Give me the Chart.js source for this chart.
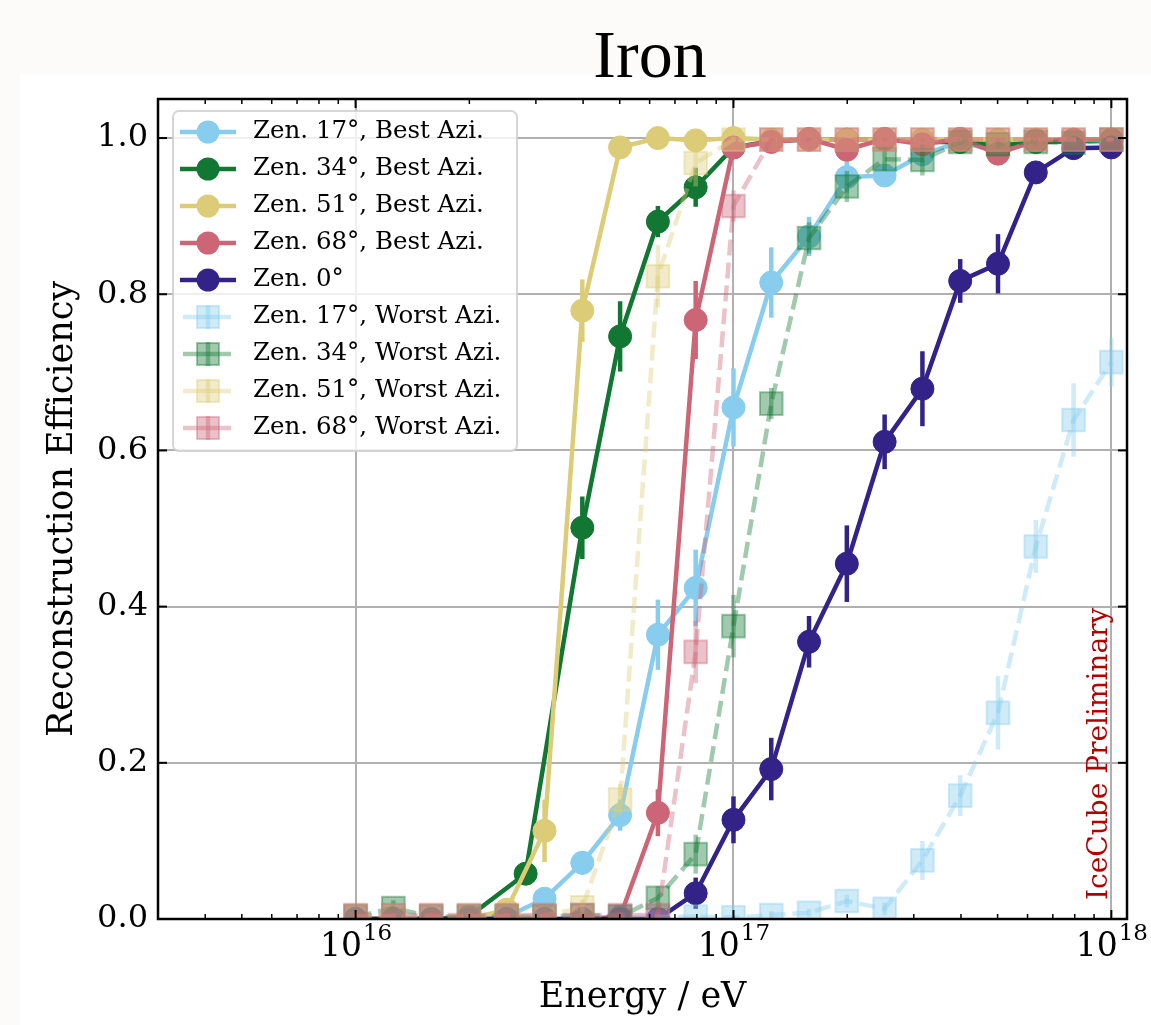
<!DOCTYPE html>
<html><head><meta charset="utf-8">
<script src="https://cdn.jsdelivr.net/npm/chart.js@4.4.0/dist/chart.umd.min.js"></script>
<style>html,body{margin:0;padding:0;background:#fcfbf9;}canvas{display:block}</style>
</head><body>
<canvas id="c" width="1151" height="1025"></canvas>
<script>
// ---- data (energy exponents: log10(E/eV)) ----
const logE = [16.0,16.1,16.2,16.3,16.4,16.5,16.6,16.7,16.8,16.9,17.0,17.1,17.2,17.3,17.4,17.5,17.6,17.7,17.8,17.9,18.0];
const logE34Best = [16.0,16.1,16.2,16.3,16.45,16.6,16.7,16.8,16.9,17.0,17.1,17.2,17.3,17.4,17.5,17.6,17.7,17.8,17.9,18.0];

const eff17Best = [0,0,0,0,0.003,0.026,0.072,0.133,0.364,0.424,0.655,0.815,0.874,0.95,0.952,0.979,0.995,0.983,0.995,0.995,0.995];
const err17Best = [0,0,0,0,0.003,0.01,0.015,0.02,0.045,0.049,0.05,0.045,0.025,0.02,0.01,0.008,0.003,0.005,0.003,0.003,0.003];
const eff34Best = [0,0,0,0.003,0.058,0.501,0.746,0.893,0.937,0.988,0.996,0.998,0.998,0.998,0.995,0.995,0.99,0.995,0.996,0.998];
const err34Best = [0,0,0,0.003,0.012,0.04,0.045,0.02,0.025,0.01,0.004,0.003,0.003,0.003,0.004,0.004,0.006,0.004,0.003,0.003];
const eff51Best = [0,0,0,0,0.012,0.113,0.779,0.988,1.0,0.997,1.0,0.998,0.998,0.998,0.998,0.998,0.998,0.998,0.998,0.998,0.998];
const err51Best = [0,0,0,0,0.005,0.04,0.04,0.01,0.003,0.003,0.002,0.002,0.002,0.002,0.002,0.002,0.002,0.002,0.002,0.002,0.002];
const eff68Best = [0,0,0,0,0,0,0,0.003,0.136,0.767,0.988,0.995,0.999,0.985,0.999,0.992,0.999,0.98,0.997,0.998,0.998];
const err68Best = [0,0,0,0,0,0,0,0.003,0.03,0.05,0.01,0.005,0.002,0.01,0.002,0.006,0.002,0.01,0.003,0.003,0.003];
const eff0 = [0,0,0,0,0,0,0,0,0,0.033,0.127,0.192,0.355,0.455,0.611,0.679,0.817,0.839,0.956,0.987,0.988];
const err0 = [0,0,0,0,0,0,0,0,0,0.02,0.03,0.04,0.033,0.049,0.035,0.048,0.028,0.038,0.012,0.01,0.01];

const eff17Worst = [0.003,0.003,0.003,0.003,0.003,0.003,0.003,0.003,0.003,0.003,0.002,0.005,0.008,0.023,0.013,0.075,0.158,0.264,0.477,0.639,0.713];
const err17Worst = [0.003,0.003,0.003,0.003,0.003,0.003,0.003,0.003,0.003,0.003,0.003,0.005,0.005,0.008,0.008,0.025,0.026,0.047,0.034,0.047,0.031];
const eff34Worst = [0.003,0.014,0.003,0.003,0.003,0.003,0.005,0.003,0.027,0.083,0.375,0.66,0.872,0.938,0.973,0.972,0.995,0.992,0.995,0.994,0.998];
const err34Worst = [0.003,0.01,0.003,0.003,0.003,0.003,0.005,0.003,0.015,0.025,0.04,0.02,0.02,0.02,0.015,0.02,0.004,0.006,0.004,0.004,0.003];
const eff51Worst = [0.004,0.004,0.004,0.004,0.004,0.004,0.015,0.153,0.823,0.968,0.998,0.998,0.998,0.998,0.998,0.998,0.998,0.998,0.998,0.998,0.998];
const err51Worst = [0.004,0.004,0.004,0.004,0.004,0.004,0.01,0.02,0.04,0.03,0.003,0.002,0.002,0.002,0.002,0.002,0.002,0.002,0.002,0.002,0.002];
const eff68Worst = [0.005,0.005,0.005,0.005,0.005,0.005,0.005,0.005,0.005,0.342,0.913,0.998,0.998,0.998,0.998,0.998,0.998,0.998,0.998,0.998,0.998];
const err68Worst = [0.004,0.004,0.004,0.004,0.004,0.004,0.004,0.004,0.004,0.04,0.02,0.002,0.002,0.002,0.002,0.002,0.002,0.002,0.002,0.002,0.002];

const seriesLabels = ['Zen. 17°, Best Azi.','Zen. 34°, Best Azi.','Zen. 51°, Best Azi.','Zen. 68°, Best Azi.','Zen. 0°',
  'Zen. 17°, Worst Azi.','Zen. 34°, Worst Azi.','Zen. 51°, Worst Azi.','Zen. 68°, Worst Azi.'];
const yTicks = [0,0.2,0.4,0.6,0.8,1.0];
const xMajorTicks = [1e16,1e17,1e18];
const xTickExponents = ['16','17','18'];
const xMinorMantissas = [2,3,4,5,6,7,8,9];

// ---- styling ----
const COLORS = {c17:[136,204,238], c34:[17,119,51], c51:[221,204,119], c68:[204,102,119], c0:[51,34,136]};
const rgba = (c,a)=>`rgba(${c[0]},${c[1]},${c[2]},${a})`;
const LW = 4.5;

function mk(label, exps, vals, errs, col, worst){
  const a = worst ? 0.4 : 1;
  return {
    label, data: exps.map((e,i)=>({x:Math.pow(10,e), y:vals[i]})), errs,
    showLine:true, borderColor:rgba(col,a), backgroundColor:rgba(col,a),
    borderWidth:LW, borderDash: worst?[16,7]:[],
    pointStyle: worst?'rect':'circle', pointRadius: worst?16:11.5, pointHoverRadius: worst?16:11.5,
    pointBackgroundColor:rgba(col,a), pointBorderColor:rgba(col,a), pointBorderWidth: worst?2:1,
    clip:0, _col:col, _alpha:a, _worst:worst
  };
}
const datasets = [
  mk(seriesLabels[0], logE, eff17Best, err17Best, COLORS.c17, false),
  mk(seriesLabels[1], logE34Best, eff34Best, err34Best, COLORS.c34, false),
  mk(seriesLabels[2], logE, eff51Best, err51Best, COLORS.c51, false),
  mk(seriesLabels[3], logE, eff68Best, err68Best, COLORS.c68, false),
  mk(seriesLabels[4], logE, eff0, err0, COLORS.c0, false),
  mk(seriesLabels[5], logE, eff17Worst, err17Worst, COLORS.c17, true),
  mk(seriesLabels[6], logE, eff34Worst, err34Worst, COLORS.c34, true),
  mk(seriesLabels[7], logE, eff51Worst, err51Worst, COLORS.c51, true),
  mk(seriesLabels[8], logE, eff68Worst, err68Worst, COLORS.c68, true),
];
datasets.forEach((d,i)=>{ d.order = 100 - i; });

const SERIF = '"DejaVu Serif", serif';

const errorBars = {
  id:'errorBars',
  beforeDatasetDraw(chart, args){
    const ds = chart.data.datasets[args.index];
    const {ctx, chartArea:a} = chart; const ys = chart.scales.y, xs = chart.scales.x;
    ctx.save();
    ctx.beginPath(); ctx.rect(a.left, a.top, a.right-a.left, a.bottom-a.top); ctx.clip();
    ctx.strokeStyle = rgba(ds._col, ds._alpha); ctx.lineWidth = LW; ctx.setLineDash([]);
    ds.data.forEach((p,i)=>{
      const e = ds.errs[i]; if(!e) return;
      const px = xs.getPixelForValue(p.x);
      ctx.beginPath(); ctx.moveTo(px, ys.getPixelForValue(p.y-e)); ctx.lineTo(px, ys.getPixelForValue(p.y+e)); ctx.stroke();
    });
    ctx.restore();
  }
};

const deco = {
  id:'deco',
  beforeDraw(chart){
    const ctx = chart.ctx;
    ctx.save();
    ctx.fillStyle = '#fcfbf9'; ctx.fillRect(0,0,chart.width,chart.height);
    ctx.fillStyle = '#ffffff'; ctx.fillRect(20,74,chart.width-20,chart.height-74);
    ctx.restore();
  },
  afterDraw(chart){
    const {ctx, chartArea:a} = chart; const xs = chart.scales.x, ys = chart.scales.y;
    ctx.save();
    ctx.strokeStyle = '#000'; ctx.setLineDash([]);
    const ln = (x1,y1,x2,y2)=>{ctx.beginPath();ctx.moveTo(x1,y1);ctx.lineTo(x2,y2);ctx.stroke();};
    // ticks (inward, all four sides)
    ctx.lineWidth = 2;
    xMajorTicks.forEach(v=>{const p=xs.getPixelForValue(v); ln(p,a.bottom,p,a.bottom-9); ln(p,a.top,p,a.top+9);});
    ctx.lineWidth = 1.5;
    for(let d=15; d<=17; d++) xMinorMantissas.forEach(m=>{
      const v = m*Math.pow(10,d); if(v<xs.min||v>xs.max) return;
      const p=xs.getPixelForValue(v); ln(p,a.bottom,p,a.bottom-5); ln(p,a.top,p,a.top+5);
    });
    ctx.lineWidth = 2;
    yTicks.forEach(v=>{const p=ys.getPixelForValue(v); ln(a.left,p,a.left+9,p); ln(a.right,p,a.right-9,p);});
    // frame
    ctx.lineWidth = 2.5;
    ctx.strokeRect(a.left, a.top, a.right-a.left, a.bottom-a.top);
    // x tick labels 10^n
    ctx.fillStyle = '#000'; ctx.textBaseline = 'alphabetic';
    xMajorTicks.forEach((v,i)=>{
      const p = xs.getPixelForValue(v);
      ctx.font = '33px ' + SERIF; const wb = ctx.measureText('10').width;
      ctx.font = '23px ' + SERIF; const we = ctx.measureText(xTickExponents[i]).width;
      const x0 = p - (wb+we)/2;
      ctx.font = '33px ' + SERIF; ctx.textAlign='left'; ctx.fillText('10', x0, 956);
      ctx.font = '23px ' + SERIF; ctx.fillText(xTickExponents[i], x0+wb+1, 940);
    });
    // IceCube Preliminary
    ctx.save();
    ctx.translate(1107, 900); ctx.rotate(-Math.PI/2);
    ctx.font = '28px ' + SERIF; ctx.fillStyle = '#b00000'; ctx.textAlign='left'; ctx.textBaseline='alphabetic';
    ctx.fillText('IceCube Preliminary', 0, 0);
    ctx.restore();
    // title
    ctx.font = '68px "Liberation Serif", serif'; ctx.textAlign='center'; ctx.fillStyle='#000';
    ctx.fillText('Iron', 650, 77);
    // legend
    const bx=173, by=111, bw=344, bh=340, r=6;
    ctx.beginPath();
    ctx.moveTo(bx+r,by); ctx.lineTo(bx+bw-r,by); ctx.arcTo(bx+bw,by,bx+bw,by+r,r);
    ctx.lineTo(bx+bw,by+bh-r); ctx.arcTo(bx+bw,by+bh,bx+bw-r,by+bh,r);
    ctx.lineTo(bx+r,by+bh); ctx.arcTo(bx,by+bh,bx,by+bh-r,r);
    ctx.lineTo(bx,by+r); ctx.arcTo(bx,by,bx+r,by,r); ctx.closePath();
    ctx.fillStyle='rgba(255,255,255,0.8)'; ctx.fill();
    ctx.strokeStyle='rgba(204,204,204,0.8)'; ctx.lineWidth=2; ctx.stroke();
    chart.data.datasets.forEach((ds,i)=>{
      const cy = 132 + i*37, cx = 208;
      const col = rgba(ds._col, ds._alpha);
      ctx.strokeStyle = col; ctx.fillStyle = col; ctx.lineWidth = LW;
      if(!ds._worst){
        ln(180, cy, 236, cy);
        ctx.beginPath(); ctx.arc(cx, cy, 11.5, 0, Math.PI*2); ctx.fill();
      } else {
        ln(183, cy, 231, cy);
        ln(cx, cy-12, cx, cy+12);
        const s = 11;
        ctx.fillRect(cx-s, cy-s, 2*s, 2*s);
        ctx.lineWidth = 2; ctx.strokeRect(cx-s, cy-s, 2*s, 2*s);
      }
      ctx.fillStyle='#000'; ctx.font = '24.5px ' + SERIF; ctx.textAlign='left'; ctx.textBaseline='middle';
      ctx.fillText(ds.label, 253, cy);
    });
    ctx.restore();
  }
};

new Chart(document.getElementById('c'), {
  type:'scatter',
  data:{datasets},
  options:{
    responsive:false, animation:false, devicePixelRatio:1,
    layout:{padding:{left:0, top:99, right:24, bottom:0}},
    plugins:{legend:{display:false}, title:{display:false}, tooltip:{enabled:false}},
    scales:{
      x:{type:'logarithmic', position:'bottom', min:3e15, max:1.1e18,
         afterBuildTicks:s=>{ s.ticks = xMajorTicks.map(v=>({value:v})); },
         afterFit:s=>{ s.height = 106; },
         ticks:{display:false},
         grid:{color:'#b0b0b0', lineWidth:2, drawTicks:false},
         border:{display:false},
         title:{display:true, text:'Energy / eV', color:'#000', font:{family:'DejaVu Serif', size:35}, padding:{top:0,bottom:6}}
      },
      y:{type:'linear', min:0, max:1.05,
         afterBuildTicks:s=>{ s.ticks = yTicks.map(v=>({value:v})); },
         afterFit:s=>{ s.width = 158; },
         ticks:{color:'#000', font:{family:'DejaVu Serif', size:32}, padding:10, callback:v=>Number(v).toFixed(1)},
         grid:{color:'#b0b0b0', lineWidth:2, drawTicks:false},
         border:{display:false},
         title:{display:true, text:'Reconstruction Efficiency', color:'#000', font:{family:'DejaVu Serif', size:35}, padding:{top:42,bottom:0}}
      }
    }
  },
  plugins:[deco, errorBars]
});
</script>
</body></html>
